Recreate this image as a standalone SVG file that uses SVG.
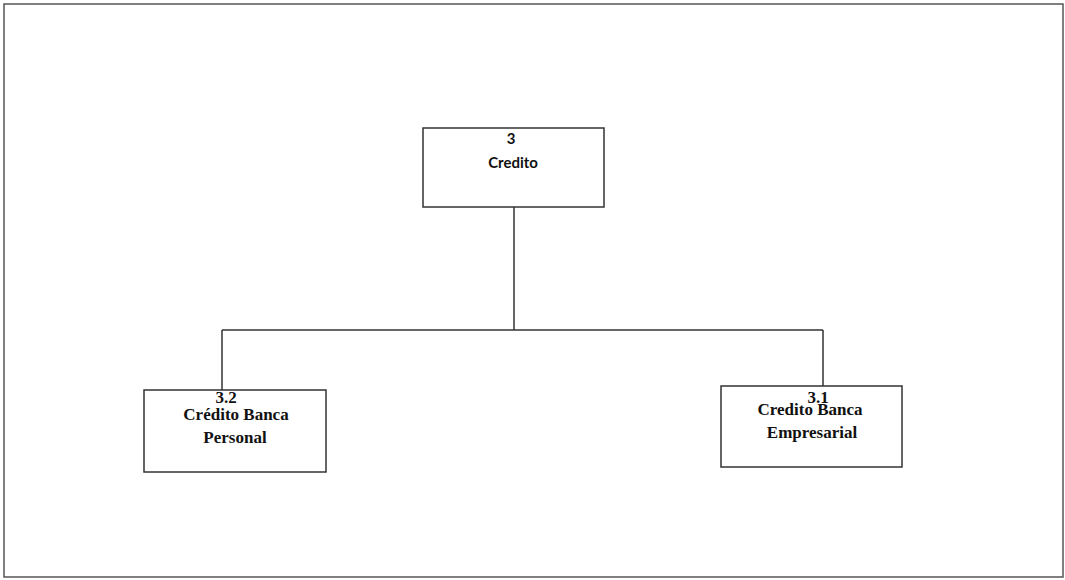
<svg xmlns="http://www.w3.org/2000/svg" width="1065" height="580" viewBox="0 0 1065 580">
  <style>
    .frame { fill: #ffffff; stroke: #555555; stroke-width: 1.5; }
    .box { fill: #ffffff; stroke: #333333; stroke-width: 1.5; }
    .link { fill: none; stroke: #333333; stroke-width: 1.5; }
    .lbl { font-family: "Liberation Serif", "Times New Roman", serif; font-weight: bold; font-size: 17px; fill: #111111; text-anchor: middle; }
    .top { font-family: Lato, "Liberation Sans", sans-serif; font-weight: bold; font-size: 15px; fill: #111111; text-anchor: middle; }
  </style>
  <rect class="frame" x="4" y="4" width="1059" height="573"/>

  <g id="connectors">
    <path class="link" d="M514 207 V330"/>
    <path class="link" d="M222 330 H823"/>
    <path class="link" d="M222 330 V390"/>
    <path class="link" d="M823 330 V386"/>
  </g>

  <g id="node-3">
    <rect class="box" x="423" y="128" width="181" height="79"/>
    <text class="top" x="511" y="144">3</text>
    <text class="top" x="513" y="168">Credito</text>
  </g>

  <g id="node-3-2">
    <rect class="box" x="144" y="390" width="182" height="82"/>
    <text class="lbl" x="226" y="403">3.2</text>
    <text class="lbl" x="236" y="420">Crédito Banca</text>
    <text class="lbl" x="235" y="443">Personal</text>
  </g>

  <g id="node-3-1">
    <rect class="box" x="721" y="386" width="181" height="81"/>
    <text class="lbl" x="818" y="403">3.1</text>
    <text class="lbl" x="810" y="415">Credito Banca</text>
    <text class="lbl" x="812" y="438">Empresarial</text>
  </g>
</svg>
